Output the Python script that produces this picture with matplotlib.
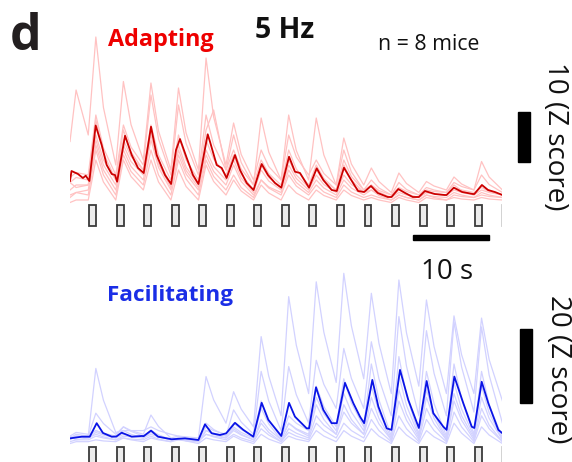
import numpy as np
import matplotlib
matplotlib.use("Agg")
import matplotlib.pyplot as plt
from matplotlib.patches import Rectangle

plt.rcParams['font.family'] = ['Open Sans', 'DejaVu Sans']

# ---------------------------------------------------------------- data ----
# stimulus train onsets (s); each train lasts ~1 s
stim_onsets = [2.5, 6.125, 9.75, 13.375, 17.0, 20.625, 24.25, 27.875, 31.5,
               35.125, 38.75, 42.375, 46.0, 49.625, 53.25, 56.875]
stim_duration = 0.92

# Adapting population: mean trace (time in s, Z score)
adapt_mean_t = [0, 0.2, 1.05, 1.7, 2.07, 2.55, 3.38, 4.17, 4.83, 5.49, 5.92, 6.2,
                7.24, 8.12, 8.95, 9.7, 10.66, 11.4, 12.5, 13.3, 13.95, 14.47, 15.36,
                16.18, 16.9, 18.12, 18.42, 19.3, 19.96, 20.6, 21.71, 22.37, 23.25,
                24.15, 25.22, 26.05, 26.97, 27.8, 28.82, 29.6, 30.26, 31.45, 32.46,
                33.33, 34.43, 35.1, 36.05, 36.84, 37.9, 38.7, 39.6, 40.5, 41.8, 42.3,
                43.2, 44.1, 45.1, 45.9, 46.7, 48.0, 49.3, 49.55, 50.5, 51.6, 53.0,
                53.2, 54.2, 55.0, 55.9, 56.9]
adapt_mean_z = [2.8, 4.8, 4.2, 3.4, 3.86, 2.8, 13.9, 10.0, 6.0, 4.2, 4.0, 2.66,
                11.86, 8.0, 5.4, 4.4, 13.66, 8.0, 4.0, 2.2, 9.0, 11.2, 7.4,
                4.0, 2.2, 12.14, 10.66, 6.0, 5.4, 3.4, 8.0, 5.0, 2.4,
                1.0, 6.2, 4.0, 2.4, 1.46, 7.66, 4.66, 4.4, 1.46, 5.34,
                3.0, 1.0, 0.8, 5.46, 3.4, 0.8, 0.6, 1.8, 0.4, -0.4, -0.4,
                1.2, 0.4, -0.4, -0.4, 0.8, 0.2, 0.0, 0.0, 1.46, 0.6, 0.2,
                0.2, 2.0, 1.0, 0.6, 0.0]

# Adapting population: single mice, sampled at start, then per train at
# (onset - 0.1 s, onset + 0.9 s, onset + 1.9 s), then at the end
adapt_mice = [
    [10.7, 21, 12, 31.6, 17.5, 6, 22.7, 14.1, 7, 22.4, 12.8, 5, 21.4, 12.4, 5, 27.4,
     15.6, 6, 14.4, 8.1, 3, 9, 5.7, 3, 12, 7.6, 4, 7, 4.3, 2, 11.4, 6.2, 2, 5.4, 2.7,
     0.5, 4.4, 2.3, 0.5, 2.7, 1.8, 1, 3.6, 2.2, 1, 6.7, 3.6, 1],
    [3.5, 4.5, 4, 16, 9.4, 4, 14, 9.6, 6, 20, 11.2, 4, 18, 10.3, 4, 16, 10, 5, 12, 6.5,
     2, 15.4, 8.6, 3, 16, 8.9, 3, 15.4, 8, 2, 9, 4.6, 1, 3, 1.4, 0, 2.5, 1.1, 0, 1.5,
     1, 0.5, 2.5, 1.7, 1, 4, 2.1, 0.5],
    [2.5, 3.5, 3, 15, 8.4, 3, 13, 8.6, 5, 14, 8, 3, 12, 7, 3, 13, 17, 5, 9, 5.2, 2, 7,
     4.3, 2, 9, 5.2, 2, 6, 3.3, 1, 7, 3.7, 1, 2, 0.9, 0, 1.5, 0.7, 0, 1, 0.7, 0.5, 2,
     0.9, 0, 2, 0.9, 0],
    [2.5, 1.5, 2, 12, 7, 3, 11, 7.7, 5, 13, 7, 2, 10, 5.6, 2, 11, 7.2, 4, 8, 4.2, 1, 6,
     3.5, 1.5, 7, 4, 1.5, 5, 2.8, 1, 6, 3, 0.5, 2, 0.6, -0.5, 1, 0.2, -0.5, 0.5, 0.2,
     0, 1.5, 1, 0.5, 1.5, 0.7, 0],
    [1, 2, 2, 11, 6, 2, 10, 6.7, 4, 12, 6.2, 1.5, 9, 4.9, 1.5, 9, 5.7, 3, 7, 3.4, 0.5,
     5, 2.8, 1, 6, 3.3, 1, 4, 2.1, 0.5, 4, 2.1, 0.5, 1, 0.2, -0.5, 0.5, 0, -0.5, 0.5,
     0.2, 0, 1, 0.5, 0, 1, 0.5, 0],
    [0, 0.5, 1, 10, 5, 1, 9, 5.7, 3, 11, 5.5, 1, 8, 4.2, 1, 8, 4.7, 2, 6, 2.7, 0, 3,
     1.6, 0.5, 5, 2.5, 0.5, 3, 1.4, 0, 3, 1.4, 0, 1, -0.1, -1, 0, -0.5, -1, 0, -0.3,
     -0.5, 0.5, 0, -0.5, 0.5, 0, -0.5],
    [-0.5, 0.5, 0, 9, 4, 0, 8, 4.7, 2, 9, 4, 0, 7, 3.2, 0, 7, 3.7, 1, 4, 1.5, -0.5, 3,
     1.4, 0, 4, 1.8, 0, 2, 0.6, -0.5, 2, 0.6, -0.5, 0, -0.5, -1, 0, -0.5, -1, 0, -0.5,
     -1, 0, -0.3, -0.5, 0, -0.3, -0.5],
    [-1.5, -1, -1, 7, 2.6, -1, 7, 3.7, 1, 7, 2.6, -1, 5, 1.7, -1, 6, 2.7, 0, 3, 0.8,
     -1, 2, 0.4, -1, 2, 0.4, -1, 1, -0.1, -1, 1, -0.1, -1, -0.5, -1, -1.5, -0.5, -1,
     -1.5, -0.5, -0.8, -1, -0.5, -0.8, -1, -0.5, -0.8, -1],
]

# Facilitating population: mean trace (time in s, Z score)
facil_mean_t = [0, 1.54, 2.6, 3.51, 4.34, 5.49, 6.1, 6.8, 8.12, 9.43,
                9.7, 10.66, 11.58, 13.38, 15.13, 16.9, 17.76, 18.64, 19.74, 20.55,
                21.71, 22.8, 24.12, 25.22, 26.09, 27.8, 28.82, 29.6, 31.14, 31.45,
                32.37, 33.33, 34.43, 35.1, 36.18, 37.28, 38.16, 38.7, 39.78, 40.57,
                41.67, 42.3, 43.42, 44.51, 45.9, 46.93, 47.8, 49.12, 49.55, 50.57,
                51.75, 52.86, 53.2, 54.17, 55.04, 56.36, 56.9]
facil_mean_z = [-0.1, 0.35, 0.35, 4.0, 1.35, 0.35, 0.4, 1.43, 0.35, 0.54,
                0.5, 2.0, 0.35, -0.35, -0.1, -0.54, 3.7, 1.27, 0.8, 1.27,
                4.1, 2.2, 0.35, 9.5, 4.9, 0.54, 9.5, 5.76, 2.6, 2.6,
                13.7, 7.6, 4.0, 4.0, 14.9, 9.4, 5.76, 4.0, 15.7, 8.5,
                2.6, 2.2, 18.4, 10.3, 2.7, 15.4, 6.7, 3.05, 2.2, 16.6,
                9.4, 3.05, 2.7, 15.2, 9.4, 2.2, 1.27]

# Facilitating population: single mice, same sampling as above
facil_mice = [
    [0, 0.5, 0.5, 18.8, 10.2, 1.5, 2, 2, 2, 3, 2, 1, 0.5, 0.3, 0, 16.6, 10.3, 4, 12.5,
     7.8, 3, 27.4, 16.7, 6, 38.2, 25.1, 12, 42.2, 28.6, 15, 44.5, 30.3, 16, 39.1, 25.6,
     12, 42.7, 28.4, 14, 37.3, 24.7, 12, 33, 22.5, 12, 32.4, 21.2, 10],
    [0.5, 0, 0.5, 6.7, 3.9, 1, 3, 2, 1, 6.2, 3.1, 0, 0.5, 0, -0.5, 4, 2.3, 0.5, 7.6,
     4.3, 1, 18, 10, 2, 19.3, 11.7, 4, 21, 14.5, 8, 24.2, 16.1, 8, 26, 16, 6, 32.8,
     19.4, 6, 29, 17.5, 6, 31.4, 19.2, 7, 30, 17, 4],
    [0, 1, 0.5, 2, 1.3, 0.5, 3, 1.8, 0.5, 2, 0.8, -0.5, 0, -0.3, -0.5, 3, 2, 1, 4, 2.3,
     0.5, 10, 5, 0, 6, 4, 2, 14, 8.5, 3, 16, 9.5, 3, 20, 10.3, 0.5, 22, 11.5, 1, 18,
     9.3, 0.5, 20, 10.5, 1, 18, 9, 0],
    [0.5, 1.5, 1, 2, 1, 0, 2, 1, 0, 2, 0.8, -0.5, 0, -0.5, -1, 2, 1.3, 0.5, 3, 1.5, 0,
     8, 3.8, -0.5, 4, 2.5, 1, 11, 6.5, 2, 12, 7, 2, 14, 7, 0, 17, 8.8, 0.5, 13, 6.5, 0,
     15, 7.8, 0.5, 14, 6.8, -0.5],
    [-0.5, 0.5, 0, 1.5, 0.8, 0, 1, 0.5, 0, 1.5, 0.5, -0.5, 0, -0.5, -1, 2, 1, 0, 2.5,
     1, -0.5, 5, 2.3, -0.5, 4, 2.3, 0.5, 9, 5, 1, 9, 5, 1, 11, 5.3, -0.5, 13, 6.5, 0,
     11, 5.3, -0.5, 12, 6, 0, 11, 5.3, -0.5],
    [0.5, -0.5, 0, 1, 0.3, -0.5, 0.5, 0.3, 0, 1, 0.3, -0.5, -0.5, -0.5, -0.5, 1, 0.5,
     0, 2, 0.8, -0.5, 4, 1.5, -1, 2.5, 1.3, 0, 6, 3.5, 1, 7, 4, 1, 8, 3.8, -0.5, 10,
     4.8, -0.5, 8, 3.8, -0.5, 10, 4.8, -0.5, 8, 3.5, -1],
    [-1, -0.5, -0.5, 0.5, 0, -0.5, 0, -0.3, -0.5, 0.5, -0.3, -1, -0.5, -0.8, -1, 1,
     0.3, -0.5, 1, 0, -1, 2.5, 0.8, -1, 1.5, 0.5, -0.5, 4, 2, 0, 4, 2, 0, 5, 2, -1, 6,
     2.5, -1, 5, 2, -1, 7, 3, -1, 6, 2.5, -1],
    [-1.5, -1, -1, -0.5, -0.8, -1, 0, -0.5, -1, 0, -0.5, -1, 0, -0.8, -1.5, 0, -0.5,
     -1, 0.5, -0.5, -1.5, 1, -0.3, -1.5, 0.5, -0.3, -1, 2, 0.5, -1, 2, 0.5, -1, 2.5,
     0.5, -1.5, 3, 0.8, -1.5, 2, 0.3, -1.5, 4, 1.3, -1.5, 3, 0.8, -1.5],
]

time_bar_s = 10          # horizontal scale bar (s)
adapt_bar_z = 10         # vertical scale bar, top panel (Z)
facil_bar_z = 20         # vertical scale bar, bottom panel (Z)


def sample_times(onsets):
    t = [0.0, 0.8]
    for on in onsets[:15]:
        t += [on - 0.1, on + 0.9, on + 1.9]
    t.append(56.9)
    return np.array(t)


# -------------------------------------------------------------- figure ----
W, H = 572, 462
fig = plt.figure(figsize=(W / 100, H / 100), dpi=100)

T_END = 56.9
PX_PER_S = 7.6
ax_w = T_END * PX_PER_S

ax_top = fig.add_axes([70 / W, (H - 245) / H, ax_w / W, 225 / H])
ax_top.set_xlim(0, T_END)
ax_top.set_ylim(-10, 35)

ax_bot = fig.add_axes([70 / W, 0, ax_w / W, 212 / H])
ax_bot.set_xlim(0, T_END)
ax_bot.set_ylim(-6.49, 50.8)

for ax in (ax_top, ax_bot):
    ax.axis('off')

t_knots = sample_times(stim_onsets)

# single mice (pale) and population mean
for trace in adapt_mice:
    ax_top.plot(t_knots, trace, color='#ffc2c2', lw=0.9, solid_joinstyle='round')
ax_top.plot(adapt_mean_t, adapt_mean_z, color='#cc0000', lw=1.3,
            solid_joinstyle='round')

for trace in facil_mice:
    ax_bot.plot(t_knots, trace, color='#d2d2ff', lw=0.9, solid_joinstyle='round')
ax_bot.plot(facil_mean_t, facil_mean_z, color='#0a14e6', lw=1.3,
            solid_joinstyle='round')

# stimulus trains (the last one starts as the recording ends)
for i, on in enumerate(stim_onsets):
    edge = '#3a3a3a' if on < T_END - 0.1 else '#cfcfcf'
    style = dict(facecolor='#ececec', edgecolor=edge, lw=1.3)
    ax_top.add_patch(Rectangle((on, -6.2), stim_duration, 4.2, **style))
    ax_bot.add_patch(Rectangle((on, -8.1), stim_duration, 5.67, **style))

# scale bars
ax_top.add_patch(Rectangle((58.95, 6.6), 1.58, adapt_bar_z, color='black',
                           clip_on=False))
ax_top.add_patch(Rectangle((45.13, -9.0), time_bar_s, 1.0, color='black',
                           clip_on=False))
ax_bot.add_patch(Rectangle((59.2, 9.46), 1.58, facil_bar_z, color='black',
                           clip_on=False))


def ftext(x, y, s, **kw):
    fig.text(x / W, 1 - y / H, s, **kw)


ftext(10, 50, 'd', fontsize=36, fontweight='bold', color='#231f20',
      ha='left', va='baseline')
ftext(108, 46.5, 'Adapting', fontsize=16.8, fontweight='bold', color='#ee0000',
      ha='left', va='baseline')
ftext(255, 37.5, '5 Hz', fontsize=20.5, fontweight='bold', color='#111111',
      ha='left', va='baseline')
ftext(378, 49.5, 'n = 8 mice', fontsize=15.3, color='#111111',
      ha='left', va='baseline')
ftext(447, 279, '10 s', fontsize=20, color='#111111', ha='center', va='baseline')
ftext(107, 301.5, 'Facilitating', fontsize=16.2, fontweight='bold',
      color='#1a2ee6', ha='left', va='baseline')
ftext(555, 136, '10 (Z score)', fontsize=20, color='#111111', rotation=270,
      ha='center', va='center')
ftext(558, 369, '20 (Z score)', fontsize=20, color='#111111', rotation=270,
      ha='center', va='center')

fig.savefig('out.png', dpi=100)
